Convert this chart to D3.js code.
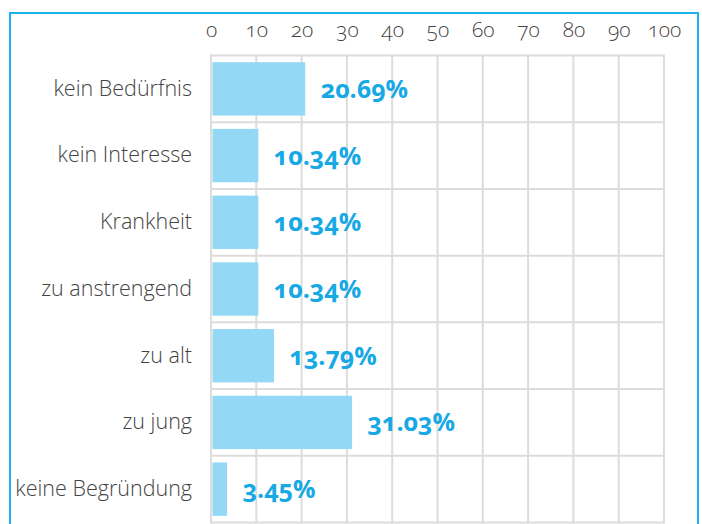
<!DOCTYPE html>
<html>
<head>
<meta charset="utf-8">
<script src="https://cdn.jsdelivr.net/npm/d3@7"></script>
<style>
body { margin: 0; background: #fff; }
svg text { font-family: "Open Sans", sans-serif; font-variant-numeric: oldstyle-nums; font-feature-settings: "onum" 1; }
.tick line { display: none; }
.domain { display: none; }
</style>
</head>
<body>
<div class="cont"></div>
<script>

var w = 702,
h = 524;

// data
var categories = ["kein Bedürfnis", "kein Interesse", "Krankheit", "zu anstrengend", "zu alt", "zu jung", "keine Begründung"];
var percents = [20.69, 10.34, 10.34, 10.34, 13.79, 31.03, 3.45];
var tickValues = [0, 10, 20, 30, 40, 50, 60, 70, 80, 90, 100];

var rows = categories.map(function (c, i) {return {cat: c, val: percents[i]};});

var svg = d3.select(".cont").append("svg").
attr("width", w).
attr("height", h);

// frame
svg.append("rect").
attr("x", 10).
attr("y", 13).
attr("width", 688).
attr("height", 540).
attr("fill", "none").
attr("stroke", "#1ab2ec").
attr("stroke-width", 2);

var xScale = d3.scaleLinear().
domain([0, 100]).
range([211, 664]);

var yScale = d3.scaleBand().
domain(categories).
range([55.5, 522.5]).
paddingInner(0.2).
paddingOuter(0.1);

var step = yScale.step();
var top0 = yScale.range()[0];

var grid = svg.append("g").attr("class", "grid");

// horizontal grid lines between rows
grid.selectAll("line.hrow").
data(d3.range(categories.length + 1)).
enter().append("line").
attr("class", "hrow").
attr("x1", xScale(0)).
attr("x2", xScale(100)).
attr("y1", function (i) {return top0 + i * step;}).
attr("y2", function (i) {return top0 + i * step;}).
attr("stroke", "#dcdcdc").
attr("stroke-width", 2);

// vertical grid lines
grid.selectAll("line.vcol").
data(tickValues).
enter().append("line").
attr("class", "vcol").
attr("x1", function (d) {return xScale(d);}).
attr("x2", function (d) {return xScale(d);}).
attr("y1", top0 - 1).
attr("y2", top0 + categories.length * step + 1).
attr("stroke", "#dcdcdc").
attr("stroke-width", 2);

// bars
svg.append("g").
selectAll("rect").
data(rows).
enter().append("rect").
attr("x", xScale(0) + 1.5).
attr("y", function (d) {return yScale(d.cat);}).
attr("width", function (d) {return xScale(d.val) - xScale(0) - 1;}).
attr("height", yScale.bandwidth()).
attr("fill", "#93d9f6");

// value labels
svg.append("g").
selectAll("text").
data(rows).
enter().append("text").
attr("x", function (d) {return xScale(d.val) + 16;}).
attr("y", function (d) {return yScale(d.cat) + yScale.bandwidth() / 2;}).
attr("dy", "0.36em").
attr("fill", "#17a8e6").
attr("font-weight", 700).
attr("font-size", 25).
text(function (d) {return d3.format(".2f")(d.val) + "%";});

// top axis
var xAxis = d3.axisTop(xScale).
tickValues(tickValues).
tickSize(0).
tickPadding(19);

svg.append("g").
attr("transform", "translate(0," + top0 + ")").
call(xAxis).
selectAll("text").
attr("font-size", 21).
attr("font-weight", 300).
attr("fill", "#444");

// category axis
var yAxis = d3.axisLeft(yScale).
tickSize(0).
tickPadding(19);

svg.append("g").
attr("transform", "translate(" + xScale(0) + ",0)").
call(yAxis).
selectAll("text").
attr("font-size", 21.5).
attr("font-weight", 300).
attr("fill", "#444");

</script>
</body>
</html>
